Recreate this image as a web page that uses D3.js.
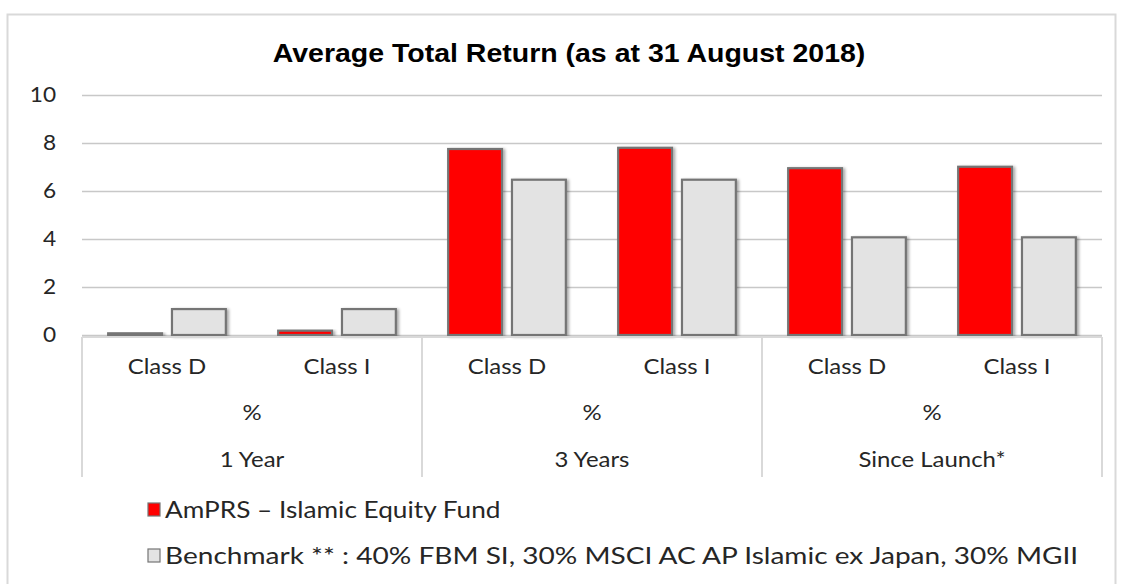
<!DOCTYPE html>
<html>
<head>
<meta charset="utf-8">
<script src="https://cdn.jsdelivr.net/npm/d3@7"></script>
<style>
  body { margin:0; background:#fff; }
  text { font-family: Lato, "Open Sans", sans-serif; fill:#262626; }
</style>
</head>
<body>
<svg id="chart"></svg>
<script>
var periods = ["1 Year","3 Years","Since Launch*"];
var classes = ["Class D","Class I"];
var unitLabel = "%";
var seriesNames = ["AmPRS \u2013 Islamic Equity Fund",
                   "Benchmark ** : 40% FBM SI, 30% MSCI AC AP Islamic ex Japan, 30% MGII"];
var fundValues = [0.07,0.18,7.75,7.80,6.95,7.01];
var benchValues = [1.08,1.08,6.47,6.47,4.07,4.07];
var yTicks = [0,2,4,6,8,10];
var colors = ["#ff0000","#e3e3e3"];

var w = 1121, h = 584;
var svg = d3.select("svg#chart")
            .attr("width",w)
            .attr("height",h);

var defs = svg.append("defs");
var shadow = defs.append("filter")
                 .attr("id","shadow")
                 .attr("x","-20%").attr("y","-20%")
                 .attr("width","150%").attr("height","150%");
shadow.append("feDropShadow")
      .attr("dx",2).attr("dy",1)
      .attr("stdDeviation",1.6)
      .attr("flood-color","#000")
      .attr("flood-opacity",0.35);

// outer chart border
svg.append("rect")
   .attr("x",7.5).attr("y",14.5)
   .attr("width",1108).attr("height",600)
   .attr("fill","none")
   .attr("stroke","#d9d9d9")
   .attr("stroke-width",2);

// the source picture is stretched sideways, so text is widened a bit
var stretch = 1.14;

svg.append("text")
   .attr("transform","translate(569,62) scale("+stretch+",1)")
   .attr("text-anchor","middle")
   .style("font-family","'Liberation Sans', Arial, sans-serif")
   .style("font-weight","bold")
   .style("font-size","25px")
   .style("fill","#000")
   .text("Average Total Return (as at 31 August 2018)");

var plotLeft = 82, plotRight = 1102, plotTop = 95, plotBottom = 335;

// one row per bar group (period + class)
var rows = [];
periods.forEach(function(p,i){
  classes.forEach(function(c,j){
    var k = i*classes.length+j;
    rows.push({key:p+"|"+c, period:p, cls:c, values:[fundValues[k],benchValues[k]]});
  });
});

var xScale = d3.scaleBand()
               .domain(rows.map(function(d){return d.key;}))
               .range([plotLeft,plotRight]);
var xPeriod = d3.scaleBand()
                .domain(periods)
                .range([plotLeft,plotRight]);
var xInner = d3.scaleBand()
               .domain([0,1])
               .range([0,xScale.bandwidth()])
               .paddingInner(0.156)
               .paddingOuter(0.41);
var yScale = d3.scaleLinear()
               .domain([0,10])
               .range([plotBottom,plotTop]);

// gridlines
var yAxis = d3.axisLeft(yScale)
              .tickValues(yTicks)
              .tickSize(-(plotRight-plotLeft))
              .tickPadding(24);
var yg = svg.append("g")
            .classed("yAxis",true)
            .attr("transform","translate("+plotLeft+",0)")
            .call(yAxis);
yg.select(".domain").remove();
yg.selectAll("line")
  .attr("stroke","#c8c8c8")
  .attr("stroke-width",1.3);
yg.selectAll("text")
  .attr("transform","scale(1.08,1)")
  .style("font-size","21px")
  .style("font-family","Lato, sans-serif")
  .attr("fill","#262626");

// bars
var groups = svg.selectAll("g.barGroup")
                .data(rows)
                .enter()
                .append("g")
                .classed("barGroup",true)
                .attr("transform",function(d){
                  return "translate("+xScale(d.key)+",0)";
                });

groups.selectAll("rect")
      .data(function(d){return d.values;})
      .enter()
      .append("rect")
      .attr("x",function(d,i){return xInner(i);})
      .attr("y",function(d){return yScale(d);})
      .attr("width",xInner.bandwidth())
      .attr("height",function(d){return yScale(0)-yScale(d);})
      .attr("fill",function(d,i){return colors[i];})
      .attr("stroke","#757575")
      .attr("stroke-width",2.2)
      .attr("filter","url(#shadow)");

// category box
var boxTop = 337, boxBottom = 477;
svg.append("line")
   .attr("x1",plotLeft).attr("x2",plotRight)
   .attr("y1",boxTop).attr("y2",boxTop)
   .attr("stroke","#d9d9d9").attr("stroke-width",2);
svg.selectAll("line.divider")
   .data(periods.concat(["end"]))
   .enter()
   .append("line")
   .classed("divider",true)
   .attr("x1",function(d,i){return plotLeft+i*xPeriod.step();})
   .attr("x2",function(d,i){return plotLeft+i*xPeriod.step();})
   .attr("y1",boxTop)
   .attr("y2",boxBottom)
   .attr("stroke","#d9d9d9")
   .attr("stroke-width",2);

svg.selectAll("text.cls")
   .data(rows)
   .enter()
   .append("text")
   .classed("cls",true)
   .attr("transform",function(d){
     return "translate("+(xScale(d.key)+xScale.bandwidth()/2)+",374) scale("+stretch+",1)";
   })
   .attr("text-anchor","middle")
   .style("font-size","21px")
   .text(function(d){return d.cls;});

svg.selectAll("text.unit")
   .data(periods)
   .enter()
   .append("text")
   .classed("unit",true)
   .attr("transform",function(d){
     return "translate("+(xPeriod(d)+xPeriod.bandwidth()/2)+",420) scale("+stretch+",1)";
   })
   .attr("text-anchor","middle")
   .style("font-size","21px")
   .text(unitLabel);

svg.selectAll("text.period")
   .data(periods)
   .enter()
   .append("text")
   .classed("period",true)
   .attr("transform",function(d){
     return "translate("+(xPeriod(d)+xPeriod.bandwidth()/2)+",467) scale("+stretch+",1)";
   })
   .attr("text-anchor","middle")
   .style("font-size","21px")
   .text(function(d){return d;});

// legend
var legend = svg.append("g")
                .classed("legend",true)
                .attr("transform","translate(148,0)");
var legendLines = legend.selectAll("g")
                        .data(seriesNames)
                        .enter()
                        .append("g")
                        .attr("transform",function(d,i){
                          return "translate(0,"+(503+46*i)+")";
                        });
legendLines.append("rect")
           .attr("x",0).attr("y",0)
           .attr("width",12).attr("height",13)
           .attr("fill",function(d,i){return colors[i];})
           .attr("stroke","#757575")
           .attr("stroke-width",1.2);
legendLines.append("text")
           .attr("transform",function(d,i){
             return "translate(17,15) scale("+(i==0 ? 1.14 : 1.22)+",1)";
           })
           .style("font-size","23px")
           .text(function(d){return d;});
</script>
</body>
</html>
